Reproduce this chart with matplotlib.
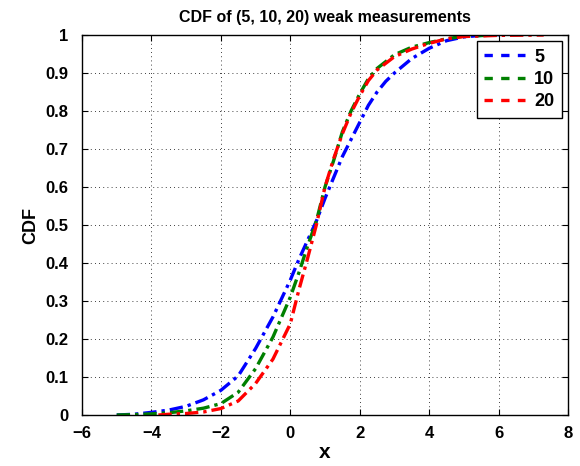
import matplotlib
matplotlib.use('Agg')
import matplotlib.pyplot as plt
from matplotlib.lines import Line2D

plt.rcParams['font.family'] = ['Liberation Sans', 'DejaVu Sans']
plt.rcParams['font.weight'] = 'bold'

# values (approximate CDF values)
x5 = [-5.0, -4.5, -4.0, -3.5, -3.0, -2.5, -2.0, -1.5, -1.0, -0.5, 0.0, 0.25, 0.5, 0.75, 1.0,
      1.25, 1.5, 1.75, 2.0, 2.25, 2.5, 2.75, 3.0, 3.5, 4.0, 4.5, 5.0, 5.5, 6.0]
cdf5 = [0.0, 0.002, 0.007, 0.013, 0.023, 0.04, 0.065, 0.103, 0.175, 0.258, 0.355, 0.41, 0.46,
        0.51, 0.57, 0.625, 0.68, 0.725, 0.77, 0.815, 0.85, 0.878, 0.9, 0.938, 0.965, 0.985,
        0.995, 0.999, 1.0]

x10 = [-5.0, -4.5, -4.0, -3.5, -3.0, -2.5, -2.0, -1.5, -1.0, -0.5, 0.0, 0.25, 0.5, 0.75, 1.0,
       1.25, 1.5, 1.75, 2.0, 2.25, 2.5, 3.0, 3.5, 4.0, 4.5, 5.0, 6.0]
cdf10 = [0.0, 0.001, 0.003, 0.006, 0.011, 0.018, 0.03, 0.06, 0.122, 0.205, 0.31, 0.375, 0.445,
         0.51, 0.6, 0.67, 0.745, 0.8, 0.845, 0.885, 0.912, 0.948, 0.968, 0.98, 0.99, 0.997, 1.0]

x20 = [-3.8, -3.5, -3.0, -2.5, -2.0, -1.5, -1.0, -0.5, 0.0, 0.25, 0.5, 0.75, 1.0,
       1.25, 1.5, 1.75, 2.0, 2.25, 2.5, 3.0, 3.5, 4.0, 4.5, 5.0, 6.0, 7.3]
cdf20 = [0.0, 0.002, 0.004, 0.008, 0.017, 0.037, 0.083, 0.147, 0.24, 0.33, 0.413, 0.5, 0.6,
         0.675, 0.74, 0.795, 0.84, 0.88, 0.908, 0.943, 0.963, 0.978, 0.99, 0.996, 0.999, 1.0]

labels = ['5', '10', '20']
colors = ['#0000ff', '#008000', '#ff0000']

fig = plt.figure(figsize=(5.8, 4.66), dpi=100)
ax = fig.add_axes([0.1414, 0.1094, 0.8379, 0.8155])

for xs, ys, c in zip([x5, x10, x20], [cdf5, cdf10, cdf20], colors):
    ax.plot(xs, ys, color=c, linestyle=(0, (4, 1.5, 1, 1.5)), linewidth=2.4)

ax.set_xlim(-6, 8)
ax.set_ylim(0, 1)
ax.set_xticks(range(-6, 9, 2))
ax.set_xticklabels(['\u22126', '\u22124', '\u22122', '0', '2', '4', '6', '8'])
ax.set_yticks([i / 10 for i in range(11)])
ax.set_yticklabels(['0', '0.1', '0.2', '0.3', '0.4', '0.5', '0.6', '0.7', '0.8', '0.9', '1'])
ax.tick_params(axis='both', direction='in', top=True, right=True, labelsize=12, length=4)
ax.tick_params(axis='x', pad=8)
ax.tick_params(axis='y', pad=10)
for lab in ax.get_xticklabels() + ax.get_yticklabels():
    lab.set_fontweight('bold')
ax.grid(True, linestyle=(0, (1, 4)), color='k', linewidth=0.6)
for s in ax.spines.values():
    s.set_linewidth(1.0)

ax.set_title('CDF of (5, 10, 20) weak measurements', fontsize=11.5, fontweight='bold', pad=9)
ax.set_xlabel('x', fontsize=15, fontweight='bold', labelpad=1)
ax.set_ylabel('CDF', fontsize=13, fontweight='bold', labelpad=4)

handles = [Line2D([], [], color=c, linestyle=(0, (2.5, 2.5)), linewidth=2.4) for c in colors]
leg = ax.legend(handles, labels, loc='upper right', fancybox=False, edgecolor='k',
                framealpha=1, prop={'weight': 'bold', 'size': 13}, handlelength=2.3,
                handletextpad=0.5, borderaxespad=0.35, labelspacing=0.3, borderpad=0.4)
leg.get_frame().set_linewidth(1.0)

fig.savefig('out.png', dpi=100)
